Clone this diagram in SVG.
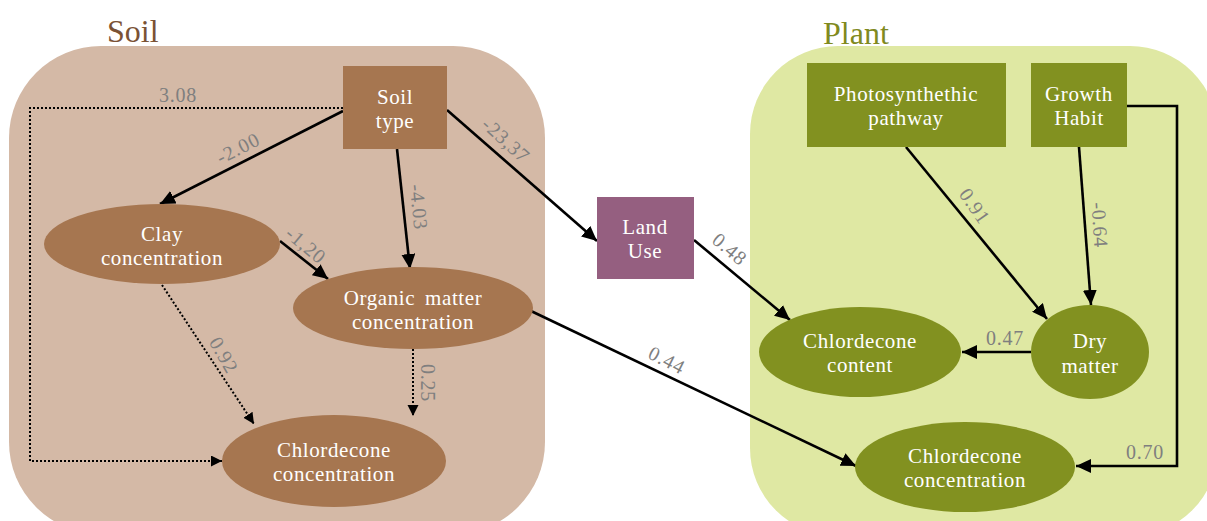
<svg xmlns="http://www.w3.org/2000/svg" width="1207" height="521" viewBox="0 0 1207 521">
<defs>
<marker id="ah" markerUnits="userSpaceOnUse" markerWidth="16" markerHeight="14" refX="15" refY="7" orient="auto">
<path d="M0,0 L15,7 L0,14 z" fill="#000"/>
</marker>
<marker id="ahs" markerUnits="userSpaceOnUse" markerWidth="12" markerHeight="12" refX="11" refY="5.5" orient="auto">
<path d="M0,0 L11,5.5 L0,11 z" fill="#000"/>
</marker>
<style>
.nt{font-family:"Liberation Serif","Times New Roman",serif;font-size:21px;fill:#fff;text-anchor:middle;letter-spacing:0.6px}
.lb{font-family:"Liberation Serif","Times New Roman",serif;font-size:20px;fill:#7f7f7f;text-anchor:middle;letter-spacing:0.8px}
.rl{dominant-baseline:central}
.e{fill:none;stroke:#000;stroke-width:2.6;marker-end:url(#ah)}
.d{fill:none;stroke:#000;stroke-width:2;stroke-dasharray:2,2;marker-end:url(#ahs)}
.soil{fill:#a67650}
.plant{fill:#829120}
.title{font-family:"Liberation Serif","Times New Roman",serif;font-size:32px}
</style>
</defs>
<g id="soil-container">
<rect x="9" y="46" width="536" height="488" rx="92" fill="#d4b9a6"/>
<text class="title" x="107" y="42" fill="#7a5235">Soil</text>
</g>
<g id="plant-container">
<rect x="750" y="46" width="468" height="490" rx="88" fill="#dfe8a3"/>
<text class="title" x="823" y="44" fill="#808a1e">Plant</text>
</g>
<g id="connectors">
<path class="e" d="M343,111 L160,204"/>
<path class="e" d="M397,149 L410,269"/>
<path class="e" d="M447,110 L597,241"/>
<path class="d" d="M343,108 H30 V461 H222"/>
<path class="e" d="M280,241 L328,279"/>
<path class="d" d="M162,285 L254,424"/>
<path class="d" d="M413,349 L413,416"/>
<path class="e" d="M531,311 L856,466"/>
<path class="e" d="M694,240 L790,320"/>
<path class="e" d="M906,147 L1047,319"/>
<path class="e" d="M1079,147 L1091,305"/>
<path class="e" d="M1031,352 L962,352"/>
<path class="e" d="M1127,106 H1177 V466 H1076"/>
<text class="lb rl" transform="translate(238,148) rotate(-27)">-2.00</text>
<text class="lb rl" transform="translate(419,207) rotate(84)">-4.03</text>
<text class="lb rl" transform="translate(506,140) rotate(42)">-23,37</text>
<text class="lb" x="178" y="102">3.08</text>
<text class="lb rl" transform="translate(306,245) rotate(40)">-1,20</text>
<text class="lb rl" transform="translate(224,355) rotate(60)">0.92</text>
<text class="lb rl" transform="translate(428,383) rotate(90)">0.25</text>
<text class="lb rl" transform="translate(667,360) rotate(27)">0.44</text>
<text class="lb rl" transform="translate(730,249) rotate(40)">0.48</text>
<text class="lb rl" transform="translate(975,206) rotate(55)">0.91</text>
<text class="lb rl" transform="translate(1100,225) rotate(86)">-0.64</text>
<text class="lb" x="1005" y="345">0.47</text>
<text class="lb" x="1145" y="459">0.70</text>
</g>
<g id="soil-type">
<rect class="soil" x="343" y="66" width="104" height="83"/>
<text class="nt" x="395" y="104">Soil</text>
<text class="nt" x="395" y="128">type</text>
</g>
<g id="clay-concentration">
<ellipse class="soil" cx="162" cy="244" rx="118" ry="40"/>
<text class="nt" x="162" y="241">Clay</text>
<text class="nt" x="162" y="265">concentration</text>
</g>
<g id="organic-matter">
<ellipse class="soil" cx="413" cy="308" rx="120" ry="41"/>
<text class="nt" x="413" y="305" word-spacing="4">Organic matter</text>
<text class="nt" x="413" y="329">concentration</text>
</g>
<g id="soil-chlordecone">
<ellipse class="soil" cx="334" cy="461" rx="112" ry="46"/>
<text class="nt" x="334" y="457">Chlordecone</text>
<text class="nt" x="334" y="481">concentration</text>
</g>
<g id="land-use">
<rect x="597" y="197" width="97" height="82" fill="#955f80"/>
<text class="nt" x="645" y="234">Land</text>
<text class="nt" x="645" y="258">Use</text>
</g>
<g id="photosynthetic-pathway">
<rect class="plant" x="807" y="63" width="199" height="84"/>
<text class="nt" x="906" y="101">Photosynthethic</text>
<text class="nt" x="906" y="125">pathway</text>
</g>
<g id="growth-habit">
<rect class="plant" x="1031" y="63" width="96" height="84"/>
<text class="nt" x="1079" y="101">Growth</text>
<text class="nt" x="1079" y="125">Habit</text>
</g>
<g id="chlordecone-content">
<ellipse class="plant" cx="860" cy="352" rx="101" ry="45"/>
<text class="nt" x="860" y="348">Chlordecone</text>
<text class="nt" x="860" y="372">content</text>
</g>
<g id="dry-matter">
<ellipse class="plant" cx="1090" cy="352" rx="59" ry="47"/>
<text class="nt" x="1090" y="348">Dry</text>
<text class="nt" x="1090" y="373">matter</text>
</g>
<g id="plant-chlordecone">
<ellipse class="plant" cx="965" cy="467" rx="110" ry="45"/>
<text class="nt" x="965" y="463">Chlordecone</text>
<text class="nt" x="965" y="487">concentration</text>
</g>
</svg>
